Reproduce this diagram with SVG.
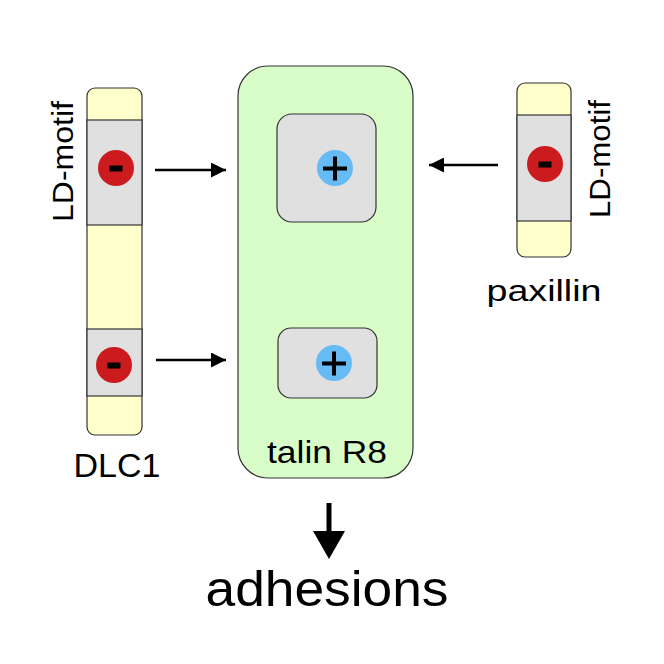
<svg xmlns="http://www.w3.org/2000/svg" width="664" height="664" viewBox="0 0 664 664">
<defs>
<style>
.bar{fill:#ffffcc;stroke:#333;stroke-width:1.2}
.seg{fill:#e0e0e0;stroke:#333;stroke-width:1.2}
.neg{fill:#cc1b1f}
.pos{fill:#66bbf4}
.sign{fill:#000}
.lbl{font-family:"Liberation Sans",Arial,sans-serif;fill:#000}
.conn{stroke:#000;stroke-width:2.5;fill:none}
</style>
<marker id="ah" viewBox="0 0 10 10" refX="10" refY="5" markerWidth="6.5" markerHeight="6" markerUnits="strokeWidth" orient="auto">
<path d="M0,0 L10,5 L0,10 z" fill="#000"/>
</marker>
</defs>
<rect width="664" height="664" fill="#fff"/>
<g id="dlc1">
<rect class="bar" x="87" y="88" width="55" height="347" rx="8"/>
<rect class="seg" x="87" y="120" width="55" height="105"/>
<rect class="seg" x="87" y="329" width="55" height="67"/>
<circle class="neg" cx="116" cy="168" r="18"/>
<rect class="sign" x="109.5" y="165.5" width="13" height="6"/>
<circle class="neg" cx="114" cy="365" r="18"/>
<rect class="sign" x="107.5" y="362.5" width="13" height="6"/>
<text class="lbl" transform="translate(73,222) rotate(-90)" font-size="30" textLength="121" lengthAdjust="spacingAndGlyphs">LD-motif</text>
<text class="lbl" x="117" y="477" font-size="34" text-anchor="middle">DLC1</text>
</g>
<g id="talin">
<rect x="238" y="66" width="175" height="412" rx="30" fill="#d9fdc8" stroke="#333" stroke-width="1.2"/>
<rect class="seg" x="277" y="114" width="99" height="108" rx="15"/>
<rect class="seg" x="278" y="328" width="99" height="70" rx="13"/>
<circle class="pos" cx="335" cy="168" r="18"/>
<rect class="sign" x="323" y="166.5" width="24" height="4"/>
<rect class="sign" x="333" y="156.5" width="4" height="24"/>
<circle class="pos" cx="334" cy="363" r="18"/>
<rect class="sign" x="322" y="361.5" width="24" height="4"/>
<rect class="sign" x="332" y="351.5" width="4" height="24"/>
<text class="lbl" x="327" y="463" font-size="32" text-anchor="middle" textLength="120" lengthAdjust="spacingAndGlyphs">talin R8</text>
</g>
<g id="paxillin">
<rect class="bar" x="517" y="83" width="54" height="174" rx="8"/>
<rect class="seg" x="517" y="115" width="54" height="106"/>
<circle class="neg" cx="545" cy="164" r="18"/>
<rect class="sign" x="538.5" y="161.5" width="13" height="6"/>
<text class="lbl" transform="translate(610,218) rotate(-90)" font-size="30" textLength="118" lengthAdjust="spacingAndGlyphs">LD-motif</text>
<text class="lbl" x="544" y="301" font-size="29" text-anchor="middle" textLength="115" lengthAdjust="spacingAndGlyphs">paxillin</text>
</g>
<g id="adhesions">
<text class="lbl" x="327" y="606" font-size="50" text-anchor="middle" textLength="243" lengthAdjust="spacingAndGlyphs">adhesions</text>
</g>
<g id="connectors">
<line class="conn" x1="155" y1="170" x2="226" y2="170" marker-end="url(#ah)"/>
<line class="conn" x1="156" y1="360" x2="226" y2="360" marker-end="url(#ah)"/>
<line class="conn" x1="498" y1="165" x2="429" y2="165" marker-end="url(#ah)"/>
<line x1="329" y1="503" x2="329" y2="533" stroke="#000" stroke-width="5"/>
<path d="M313,531 L345,531 L329,559 z" fill="#000"/>
</g>
</svg>
